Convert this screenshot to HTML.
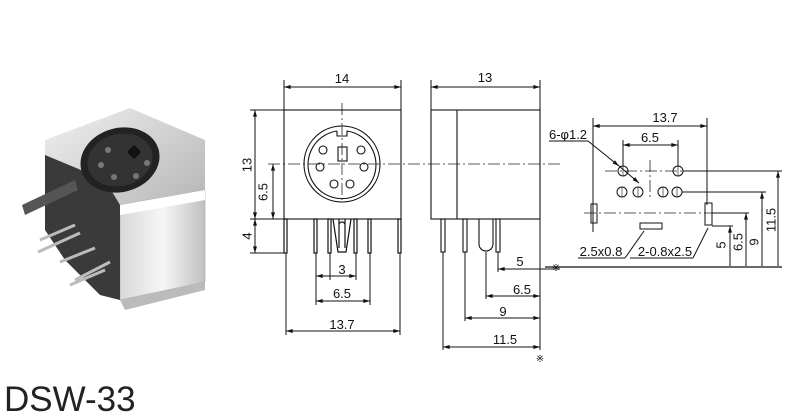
<!DOCTYPE html>
<html><head><meta charset="utf-8"><style>
html,body{margin:0;padding:0;background:#fff;}
svg{display:block;font-family:"Liberation Sans",Arial,sans-serif;}
</style></head><body>
<svg width="800" height="416" viewBox="0 0 800 416" xmlns="http://www.w3.org/2000/svg">
<defs>
<marker id="a" viewBox="0 0 10 6" refX="10" refY="3" markerWidth="8" markerHeight="4" orient="auto-start-reverse"><path d="M0,0L10,3L0,6z" fill="#111"/></marker>
<linearGradient id="g1" x1="0" y1="0" x2="1" y2="1"><stop offset="0" stop-color="#f0f0f0"/><stop offset="1" stop-color="#b0b0b0"/></linearGradient>
<linearGradient id="g2" x1="0" y1="0" x2="1" y2="0"><stop offset="0" stop-color="#d8d8d8"/><stop offset="0.5" stop-color="#f6f6f6"/><stop offset="1" stop-color="#c0c0c0"/></linearGradient>
</defs>
<!-- photo -->
<g>
<polygon points="45,140 130,108 205,140 205,200 120,228 45,190" fill="url(#g1)"/>
<polygon points="120,205 205,190 205,282 120,300" fill="url(#g2)" stroke="#999" stroke-width="0.5"/>
<polygon points="45,155 105,180 120,205 120,300 100,295 65,260 45,230" fill="#3a3a3a"/>
<polygon points="120,205 205,190 205,200 120,215" fill="#fff"/>
<ellipse cx="120" cy="160" rx="40" ry="32" fill="#222" transform="rotate(-15 120 160)"/>
<ellipse cx="120" cy="160" rx="33" ry="26" fill="#333" transform="rotate(-15 120 160)"/>
<rect x="129" y="147" width="10" height="10" fill="#111" transform="rotate(45 134 152)"/>
<circle cx="108" cy="150" r="3" fill="#777"/><circle cx="101" cy="165" r="3" fill="#777"/>
<circle cx="114" cy="177" r="3" fill="#777"/><circle cx="136" cy="176" r="3" fill="#777"/><circle cx="147" cy="163" r="3" fill="#777"/>
<polygon points="22,205 75,180 78,190 25,215" fill="#555"/>
<g stroke="#bbb" stroke-width="3"><line x1="40" y1="240" x2="75" y2="225"/><line x1="38" y1="252" x2="80" y2="233"/><line x1="60" y1="262" x2="95" y2="248"/><line x1="70" y1="285" x2="105" y2="270"/><line x1="75" y1="280" x2="110" y2="262"/></g>
<polygon points="120,300 205,282 205,290 125,310" fill="#bbb"/>
</g>
<g stroke="#111" stroke-width="1.1" fill="none">
<!-- front view -->
<rect x="284" y="110" width="117" height="109" fill="#fff"/>
<circle cx="342" cy="164" r="38"/>
<path d="M337,131 L337,136 L347,136 L347,131 A34,34 0 1 1 337,131"/>
<rect x="338" y="147" width="9" height="14"/>
<circle cx="323" cy="150" r="4"/><circle cx="361" cy="150" r="4"/>
<circle cx="320" cy="167" r="4"/><circle cx="364" cy="167" r="4"/>
<circle cx="334" cy="184" r="4"/><circle cx="350" cy="184" r="4"/>
<g stroke-width="1.2">
<rect x="284" y="219" width="3" height="34"/><rect x="398" y="219" width="3" height="34"/>
<rect x="314" y="219" width="3" height="34"/><rect x="328" y="219" width="3" height="34"/>
<rect x="354" y="219" width="3" height="34"/><rect x="368" y="219" width="3" height="34"/>
<path d="M333,219 L338,252 L346,252 L351,219"/><path d="M339,219 L339,248 M345,219 L345,248 M339,225 A3,3 0 0 1 345,225"/>
</g>
<!-- side view -->
<rect x="431" y="110" width="109" height="109" fill="#fff"/>
<line x1="457" y1="110" x2="457" y2="219"/>
<rect x="441" y="219" width="4" height="33"/><rect x="463" y="219" width="4" height="33"/><rect x="496" y="219" width="4" height="33"/>
<path d="M479,219 L479,244 A7,7 0 0 0 493,244 L493,219"/>
</g>
<!-- centerlines -->
<g stroke="#222" stroke-width="0.8" stroke-dasharray="12,3,2,3" fill="none">
<line x1="268" y1="164" x2="560" y2="164"/>
<line x1="342" y1="103" x2="342" y2="200"/>
<line x1="605" y1="171" x2="700" y2="171"/>
<line x1="650" y1="160" x2="650" y2="200"/>
<line x1="584" y1="213" x2="720" y2="213"/>
</g>
<!-- dimensions -->
<g stroke="#111" stroke-width="1" fill="none">
<line x1="284" y1="80" x2="284" y2="110"/><line x1="401" y1="80" x2="401" y2="110"/>
<line x1="284" y1="87" x2="401" y2="87" marker-start="url(#a)" marker-end="url(#a)"/>
<line x1="250" y1="110" x2="284" y2="110"/><line x1="250" y1="219" x2="284" y2="219"/><line x1="250" y1="253" x2="284" y2="253"/>
<line x1="255" y1="110" x2="255" y2="219" marker-start="url(#a)" marker-end="url(#a)"/>
<line x1="255" y1="219" x2="255" y2="253" marker-start="url(#a)" marker-end="url(#a)"/>
<line x1="273" y1="164" x2="273" y2="219" marker-start="url(#a)" marker-end="url(#a)"/>
<line x1="316" y1="253" x2="316" y2="305"/><line x1="330" y1="253" x2="330" y2="280"/><line x1="356" y1="253" x2="356" y2="280"/><line x1="370" y1="253" x2="370" y2="305"/>
<line x1="286" y1="253" x2="286" y2="335"/><line x1="400" y1="253" x2="400" y2="335"/>
<line x1="316" y1="276" x2="356" y2="276" marker-start="url(#a)" marker-end="url(#a)"/>
<line x1="316" y1="301" x2="370" y2="301" marker-start="url(#a)" marker-end="url(#a)"/>
<line x1="286" y1="331" x2="400" y2="331" marker-start="url(#a)" marker-end="url(#a)"/>
<line x1="431" y1="80" x2="431" y2="110"/><line x1="540" y1="80" x2="540" y2="350"/>
<line x1="431" y1="87" x2="540" y2="87" marker-start="url(#a)" marker-end="url(#a)"/>
<line x1="498" y1="252" x2="498" y2="272"/><line x1="486" y1="252" x2="486" y2="299"/><line x1="465" y1="252" x2="465" y2="321"/><line x1="443" y1="252" x2="443" y2="350"/>
<line x1="498" y1="269" x2="540" y2="269" marker-start="url(#a)"/>
<line x1="540" y1="269" x2="560" y2="269"/>
<line x1="486" y1="296" x2="540" y2="296" marker-start="url(#a)" marker-end="url(#a)"/>
<line x1="465" y1="318" x2="540" y2="318" marker-start="url(#a)" marker-end="url(#a)"/>
<line x1="443" y1="347" x2="540" y2="347" marker-start="url(#a)" marker-end="url(#a)"/>
<!-- right footprint -->
<line x1="593" y1="118" x2="593" y2="232"/><line x1="707" y1="118" x2="707" y2="205"/>
<line x1="593" y1="126" x2="707" y2="126" marker-start="url(#a)" marker-end="url(#a)"/>
<line x1="623" y1="140" x2="623" y2="166"/><line x1="678" y1="140" x2="678" y2="166"/>
<line x1="623" y1="145" x2="678" y2="145" marker-start="url(#a)" marker-end="url(#a)"/>
<circle cx="623" cy="171" r="5"/><circle cx="678" cy="171" r="5"/>
<circle cx="622" cy="192" r="5"/><circle cx="638" cy="192" r="5"/><circle cx="663" cy="192" r="5"/><circle cx="677" cy="192" r="5"/>
<g stroke-width="0.6"><line x1="623" y1="166" x2="623" y2="176"/><line x1="678" y1="166" x2="678" y2="176"/><line x1="622" y1="187" x2="622" y2="197"/><line x1="638" y1="187" x2="638" y2="197"/><line x1="663" y1="187" x2="663" y2="197"/><line x1="677" y1="187" x2="677" y2="197"/></g>
<rect x="591" y="204" width="6" height="19"/><rect x="705" y="203" width="7" height="22"/>
<rect x="640" y="223" width="22" height="6"/>
<line x1="588" y1="141" x2="619" y2="166" marker-end="url(#a)"/>
<line x1="619" y1="166" x2="639" y2="183" marker-end="url(#a)"/>
<line x1="549" y1="141" x2="588" y2="141"/>
<line x1="578" y1="258" x2="625" y2="258"/><line x1="625" y1="258" x2="644" y2="231"/>
<line x1="630" y1="258" x2="693" y2="258"/><line x1="693" y1="258" x2="708" y2="228"/>
<line x1="683" y1="171" x2="782" y2="171"/><line x1="682" y1="192" x2="766" y2="192"/><line x1="712" y1="213" x2="749" y2="213"/><line x1="712" y1="226" x2="733" y2="226"/>
<line x1="778" y1="171" x2="778" y2="266" marker-start="url(#a)"/>
<line x1="762" y1="192" x2="762" y2="266" marker-start="url(#a)"/>
<line x1="746" y1="213" x2="746" y2="266" marker-start="url(#a)"/>
<line x1="730" y1="226" x2="730" y2="266" marker-start="url(#a)"/>
<line x1="545" y1="267" x2="782" y2="267" stroke-width="1.2"/>
</g>
<g fill="#111" font-size="13" text-anchor="middle">
<text x="342" y="83">14</text>
<text x="485" y="82">13</text>
<text x="248" y="165" transform="rotate(-90 248 165)" dominant-baseline="middle">13</text>
<text x="264" y="192" transform="rotate(-90 264 192)" dominant-baseline="middle">6.5</text>
<text x="248" y="236" transform="rotate(-90 248 236)" dominant-baseline="middle">4</text>
<text x="342" y="274">3</text>
<text x="342" y="298">6.5</text>
<text x="342" y="329">13.7</text>
<text x="520" y="266">5</text>
<text x="522" y="294">6.5</text>
<text x="503" y="316">9</text>
<text x="505" y="344">11.5</text>
<text x="540" y="362" font-size="10">※</text>
<text x="556" y="271" font-size="10">※</text>
<text x="665" y="122">13.7</text>
<text x="650" y="142">6.5</text>
<text x="568" y="139">6-φ1.2</text>
<text x="601" y="256">2.5x0.8</text>
<text x="665" y="256">2-0.8x2.5</text>
<text x="722" y="245" transform="rotate(-90 722 245)" dominant-baseline="middle">5</text>
<text x="739" y="242" transform="rotate(-90 739 242)" dominant-baseline="middle">6.5</text>
<text x="755" y="242" transform="rotate(-90 755 242)" dominant-baseline="middle">9</text>
<text x="772" y="220" transform="rotate(-90 772 220)" dominant-baseline="middle">11.5</text>
</g>
<text x="4" y="411" font-size="35" fill="#222">DSW-33</text>
</svg>
</body></html>
